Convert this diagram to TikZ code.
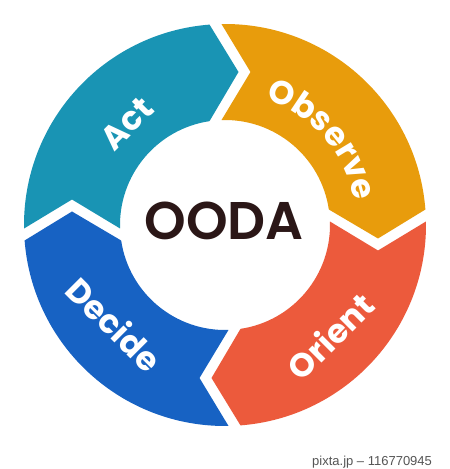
\documentclass[tikz,border=0pt]{standalone}
\usepackage{fontspec}
\usetikzlibrary{decorations.text}
\newfontfamily\labfont{Poppins Bold}
\newfontfamily\oodafont{Poppins SemiBold}
\newfontfamily\wmfont{Liberation Sans}
\definecolor{cteal}{HTML}{1994B4}
\definecolor{corange}{HTML}{E89C0C}
\definecolor{cred}{HTML}{EC5A3C}
\definecolor{cblue}{HTML}{1762C3}
\definecolor{cdark}{HTML}{2B1717}
\definecolor{cwm}{HTML}{555555}
\tikzset{
  lab/.style={text=white, font=\labfont\fontsize{33}{33}\selectfont, inner sep=0pt},
}
\begin{document}
\begin{tikzpicture}[x=1pt,y=1pt]
\useasboundingbox (0,0) rectangle (450,469);
\fill[white] (0,0) rectangle (450,469);
\coordinate (c) at (225,244);
\foreach \b/\col in {0/corange, -90/cred, -180/cblue, 90/cteal}{
  \fill[\col, shift={(225,244)}, rotate=\b]
    (91.0:201) arc[start angle=91.0, end angle=4.42, radius=201]
    -- (153,-13.5) -- (8.49:105)
    arc[start angle=8.49, end angle=91.91, radius=105]
    -- (25.5,153) -- cycle;
}
\node[lab, rotate=45] (act) at ([shift={(134:141)}]c) {Act};
\node[lab, rotate=-45] (decide) at ([shift={(222:148.7)}]c) {Decide};
\node[lab, rotate=45] (orient) at ([shift={(313.4:153)}]c) {Orient};
\path[shift={(225,244)}, decorate, decoration={text along path, text color=white,
  text={|\labfont\fontsize{33}{33}\selectfont|Observe}, text align=center}]
  (101.3:132) arc[start angle=101.3, end angle=-18.7, radius=132];
\node[anchor=base, inner sep=0pt, text=cdark, font=\oodafont\fontsize{53}{53}\selectfont] (ooda) at (224,229) {OODA};
\node[anchor=base west, inner sep=0pt, text=cwm, font=\wmfont\fontsize{13}{13}\selectfont] (wm) at (312,4) {pixta.jp – 116770945};
\end{tikzpicture}
\end{document}
